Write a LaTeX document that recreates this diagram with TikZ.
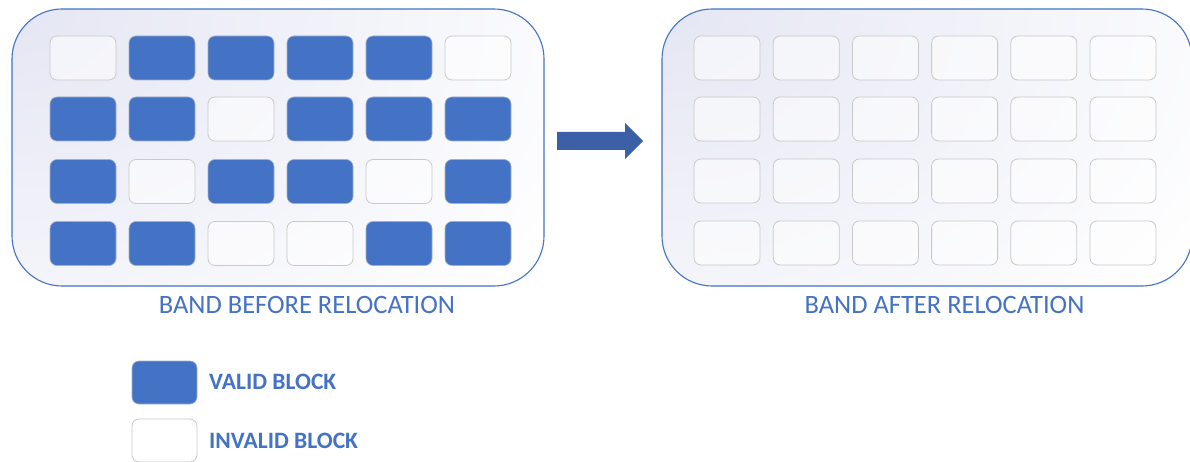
\documentclass[tikz,border=0pt]{standalone}
\usepackage{fontspec}
\setmainfont{Carlito}
\definecolor{blockblue}{HTML}{4472C4}
\definecolor{arrowblue}{HTML}{3B60A7}
\definecolor{bandtint}{HTML}{E4E6F3}
\definecolor{slotgray}{HTML}{C9C9C9}
\tikzset{
  band/.style={draw=blockblue, line width=1.1pt, rounded corners=50pt,
    minimum width=532pt, minimum height=277pt, inner sep=0pt, fill=white,
    % soft tint spreading from the upper left corner
    path picture={\shade[inner color=bandtint, outer color=white]
      (path picture bounding box.north west) ellipse [x radius=640pt, y radius=460pt];}},
  validblk/.style={draw=slotgray!70!blockblue, line width=0.6pt, fill=blockblue,
    rounded corners=7pt, minimum width=66pt, minimum height=44pt, inner sep=0pt},
  invalidblk/.style={draw=slotgray, line width=0.8pt, fill=white, fill opacity=0.55,
    rounded corners=7pt, minimum width=66pt, minimum height=44pt, inner sep=0pt},
  caption/.style={text=blockblue, font=\fontsize{26.5}{30}\selectfont, anchor=base, inner sep=0pt},
  legendtext/.style={text=blockblue, font=\bfseries\fontsize{23.5}{27}\selectfont, anchor=base west, inner sep=0pt},
  blockarrow/.style={fill=arrowblue, draw=none},
}
\begin{document}
\begin{tikzpicture}[x=1pt, y=-1pt]
\useasboundingbox (0,0) rectangle (1190,462);
\fill[white] (0,0) rectangle (1190,462);

% the two bands
\node[band] (bandL) at (278,147.5) {};
\node[band, minimum width=530pt] (bandR) at (927,147.5) {};

% blocks of the band before relocation: 1 = valid, 0 = invalid
\foreach \r/\y/\row in {1/58/{0,1,1,1,1,0}, 2/119/{1,1,0,1,1,1},
                        3/181.5/{1,0,1,1,0,1}, 4/243.5/{1,1,0,0,1,1}} {
  \foreach \v [count=\c] in \row {
    \pgfmathsetmacro{\x}{83+79*(\c-1)}
    \ifnum\v=1
      \node[validblk] (L-\r-\c) at (\x,\y) {};
    \else
      \node[invalidblk] (L-\r-\c) at (\x,\y) {};
    \fi
  }
}

% blocks of the band after relocation: all free
\foreach \r/\y in {1/58,2/119,3/181,4/243} {
  \foreach \c in {1,...,6} {
    \pgfmathsetmacro{\x}{727+79.2*(\c-1)}
    \node[invalidblk] (R-\r-\c) at (\x,\y) {};
  }
}

% relocation arrow, from the tail point to the tip
\coordinate (arrowtail) at (557,141);
\coordinate (arrowtip) at (643,141);
\fill[blockarrow] ([yshift=-9pt]arrowtail) -- ([xshift=-18pt,yshift=-9pt]arrowtip)
  -- ([xshift=-18pt,yshift=-18pt]arrowtip) -- (arrowtip)
  -- ([xshift=-18pt,yshift=18pt]arrowtip) -- ([xshift=-18pt,yshift=9pt]arrowtip)
  -- ([yshift=9pt]arrowtail) -- cycle;

% captions
\node[caption] (capL) at (307,313) {BAND BEFORE RELOCATION};
\node[caption] (capR) at (944.5,313) {BAND AFTER RELOCATION};

% legend
\node[validblk, minimum width=65pt, minimum height=43pt] (keyV) at (164.5,382.5) {};
\node[invalidblk, minimum width=65pt, minimum height=43pt, fill opacity=1] (keyI) at (164.5,440.5) {};
\node[legendtext] (keyVtext) at (209,389) {VALID BLOCK};
\node[legendtext] (keyItext) at (209,448) {INVALID BLOCK};
\end{tikzpicture}
\end{document}
